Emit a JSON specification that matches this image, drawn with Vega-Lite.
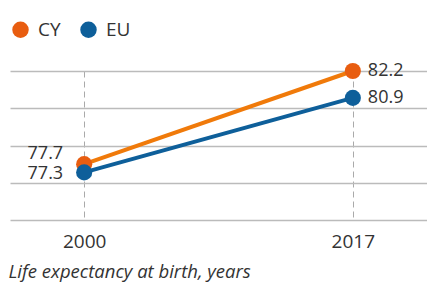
{
  "$schema": "https://vega.github.io/schema/vega-lite/v6.json",
  "width": 417,
  "height": 149,
  "autosize": {"type": "none"},
  "padding": {"left": 10, "top": 71, "right": 0, "bottom": 69},
  "background": "white",
  "config": {
    "font": "Open Sans",
    "view": {"stroke": null}
  },
  "data": {
    "values": [
      {"country": "CY", "year": "2000", "value": 77.7},
      {"country": "CY", "year": "2017", "value": 82.2},
      {"country": "EU", "year": "2000", "value": 77.3},
      {"country": "EU", "year": "2017", "value": 80.9}
    ]
  },
  "encoding": {
    "x": {
      "field": "year",
      "type": "ordinal",
      "scale": {"type": "point", "padding": 0.276},
      "axis": {
        "domain": false,
        "ticks": false,
        "grid": true,
        "gridDash": [6, 4],
        "gridColor": "#aaaaaa",
        "gridWidth": 1,
        "labelAngle": 0,
        "labelFontSize": 19,
        "labelColor": "#333333",
        "labelPadding": 12,
        "title": "Life expectancy at birth, years",
        "titleFontStyle": "italic",
        "titleFontWeight": "normal",
        "titleFontSize": 18.5,
        "titleColor": "#333333",
        "titleAlign": "left",
        "titleAnchor": "start",
        "titleBaseline": "alphabetic",
        "titleX": -2,
        "titleY": 57
      }
    },
    "y": {
      "field": "value",
      "type": "quantitative",
      "scale": {"domain": [75, 82.2], "zero": false, "nice": false},
      "axis": {
        "values": [75, 76.8, 78.6, 80.4, 82.2],
        "domain": false,
        "ticks": false,
        "labels": false,
        "title": null,
        "grid": true,
        "gridColor": "#bbbbbb",
        "gridWidth": 1.5
      }
    }
  },
  "layer": [
    {
      "mark": {"type": "line", "strokeWidth": 4},
      "encoding": {
        "color": {
          "field": "country",
          "type": "nominal",
          "scale": {"domain": ["CY", "EU"], "range": ["#F07A0A", "#0E5F9A"]},
          "legend": {
            "title": null,
            "orient": "none",
            "direction": "horizontal",
            "legendX": 1,
            "legendY": -51,
            "symbolType": "circle",
            "symbolSize": 270,
            "labelFontSize": 19,
            "labelColor": "#333333",
            "labelOffset": 8,
            "columnPadding": 18,
            "padding": 0,
            "encode": {
              "symbols": {
                "update": {
                  "fill": {"scale": "color", "field": "value"},
                  "strokeWidth": {"value": 0}
                }
              }
            }
          }
        }
      }
    },
    {
      "mark": {"type": "point", "filled": true, "opacity": 1, "size": 260},
      "encoding": {
        "fill": {
          "field": "country",
          "type": "nominal",
          "scale": {"domain": ["CY", "EU"], "range": ["#E85D10", "#0E5F9A"]},
          "legend": null
        }
      }
    },
    {
      "transform": [{"filter": "datum.year == '2017'"}],
      "mark": {"type": "text", "align": "left", "baseline": "middle", "dx": 15, "fontSize": 18, "color": "#333333"},
      "encoding": {"text": {"field": "value", "type": "quantitative", "format": ".1f"}}
    },
    {
      "transform": [{"filter": "datum.year == '2000' && datum.country == 'CY'"}],
      "mark": {"type": "text", "align": "right", "baseline": "middle", "dx": -21, "dy": -10, "fontSize": 18, "color": "#333333"},
      "encoding": {"text": {"field": "value", "type": "quantitative", "format": ".1f"}}
    },
    {
      "transform": [{"filter": "datum.year == '2000' && datum.country == 'EU'"}],
      "mark": {"type": "text", "align": "right", "baseline": "middle", "dx": -21, "dy": 2, "fontSize": 18, "color": "#333333"},
      "encoding": {"text": {"field": "value", "type": "quantitative", "format": ".1f"}}
    }
  ]
}
